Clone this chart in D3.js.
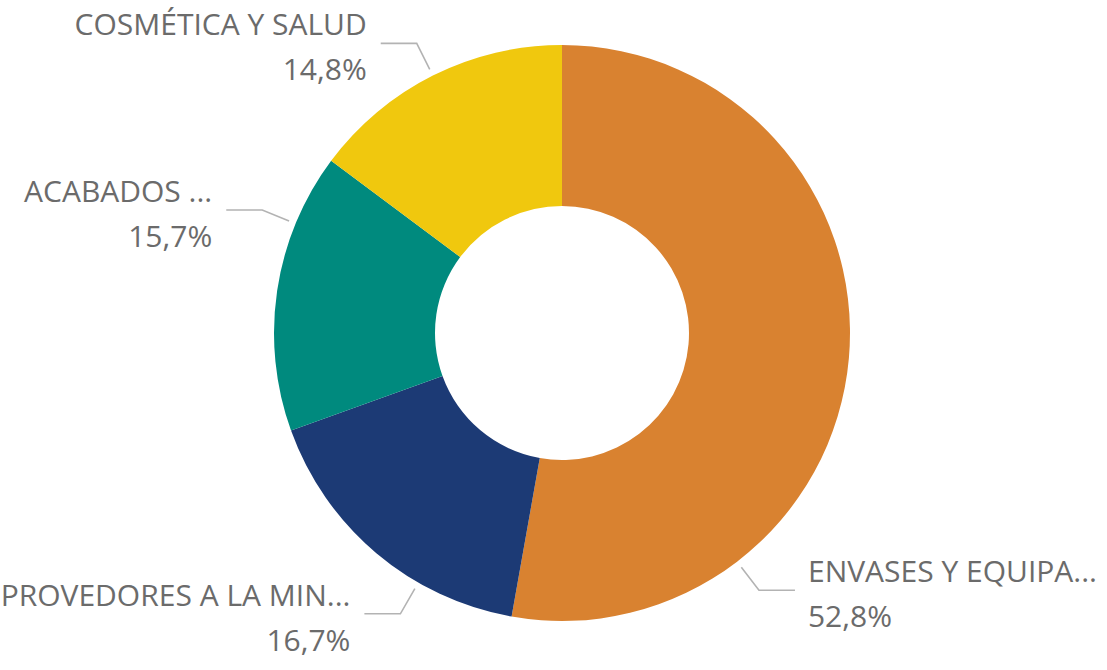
<!DOCTYPE html>
<html>
<head>
<meta charset="utf-8">
<script src="https://cdn.jsdelivr.net/npm/d3@7"></script>
<style>
  html, body { margin: 0; padding: 0; background: #fff; }
  svg { display: block; }
</style>
</head>
<body>
<svg id="chart"></svg>
<script>
// data (clockwise from 12 o'clock)
const categories = [
  "ENVASES Y EQUIPA...",
  "PROVEDORES A LA MIN...",
  "ACABADOS ...",
  "COSMÉTICA Y SALUD"
];
const shares = [52.8, 16.7, 15.7, 14.8];
const palette = ["#D98230", "#1C3A75", "#008A7E", "#F0C80E"];

// leader direction inside each slice (0 = start, 1 = end of slice)
const leaderPos = [0.75, 0.33, 0.745, 0.5];

const width = 1107;
const height = 670;
const cx = 562;
const cy = 333;
const outerR = 288;
const innerR = 127;

const svg = d3
  .select("#chart")
  .attr("width", width)
  .attr("height", height)
  .attr("viewBox", `0 0 ${width} ${height}`);

const data = categories.map((name, i) => ({ name, value: shares[i], i }));

const pie = d3.pie().sort(null).value((d) => d.value);
const arcs = pie(data);

const arc = d3.arc().innerRadius(innerR).outerRadius(outerR);

const g = svg.append("g").attr("transform", `translate(${cx},${cy})`);

g.selectAll("path")
  .data(arcs)
  .join("path")
  .attr("d", arc)
  .attr("fill", (d) => palette[d.data.i]);

// labels with leader lines
const fmt = (v) => d3.format(".1f")(v).replace(".", ",") + "%";
const polar = (a, r) => [Math.sin(a) * r, -Math.cos(a) * r];

const labels = g.append("g");

arcs.forEach((d) => {
  const a = d.startAngle + (d.endAngle - d.startAngle) * leaderPos[d.data.i];
  const right = Math.sin(a) > 0;
  const p0 = polar(a, outerR + 7);
  const p1 = polar(a, outerR + 36);
  const p2 = [p1[0] + (right ? 36 : -36), p1[1]];

  labels
    .append("polyline")
    .attr("points", [p0, p1, p2].map((p) => p.join(",")).join(" "))
    .attr("fill", "none")
    .attr("stroke", "#b3b3b3")
    .attr("stroke-width", 1.6);

  const tx = p2[0] + (right ? 13 : -14);
  const t = labels
    .append("text")
    .attr("x", tx)
    .attr("y", p1[1] - 8)
    .attr("text-anchor", right ? "start" : "end")
    .attr("fill", "#6b6b6b")
    .style("font-family", "'Open Sans', 'Noto Sans', sans-serif")
    .style("font-size", "30px");
  t.append("tspan").attr("x", tx).text(d.data.name);
  t.append("tspan").attr("x", tx).attr("dy", 45).text(fmt(d.data.value));
});
</script>
</body>
</html>
